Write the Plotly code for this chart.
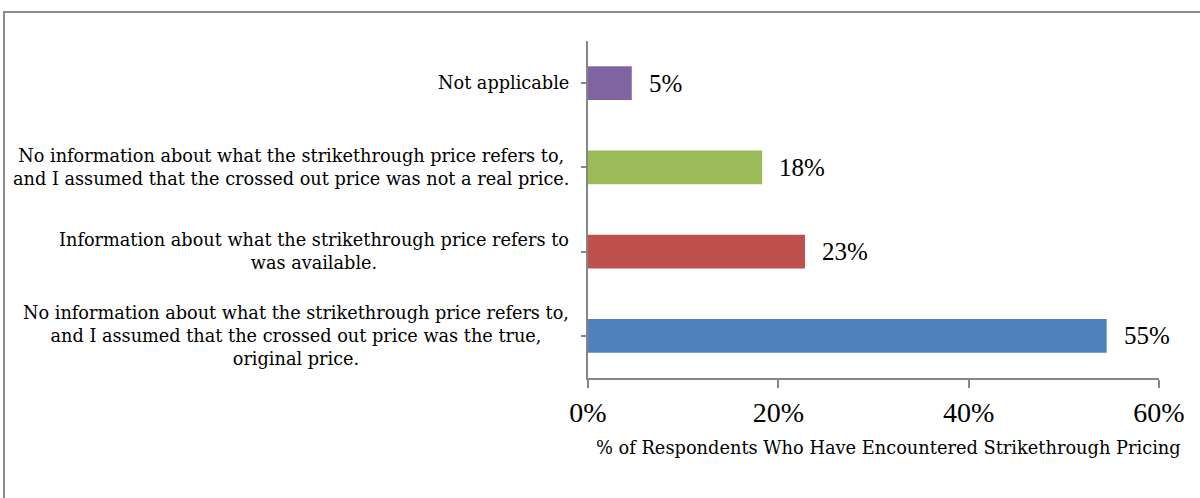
import plotly.graph_objects as go

categories = [
    "No information about what the strikethrough price refers to,<br>and I assumed that the crossed out price was the true,<br>original price.",
    "Information about what the strikethrough price refers to<br>was available.",
    "No information about what the strikethrough price refers to,<br>and I assumed that the crossed out price was not a real price.",
    "Not applicable",
]
values = [0.545, 0.228, 0.183, 0.046]
value_labels = ["55%", "23%", "18%", "5%"]
colors = ["#4F81BD", "#C0504D", "#9BBB59", "#8064A2"]
x_tick_values = [0, 0.2, 0.4, 0.6]
x_tick_labels = ["0%", "20%", "40%", "60%"]
x_title = "% of Respondents Who Have Encountered Strikethrough Pricing"

NUM_FONT = "Liberation Serif"
TXT_FONT = "DejaVu Serif"
AXIS_COLOR = "#868686"

W, H = 1200, 498
L, R, T, B = 588, 41, 41, 120
pw, ph = W - L - R, H - T - B

fig = go.Figure()
fig.add_trace(go.Bar(
    y=list(range(len(categories))),
    x=values,
    orientation="h",
    marker=dict(color=colors, line=dict(width=0)),
    hoverinfo="skip",
))

annotations = []
for i, (v, lab) in enumerate(zip(values, value_labels)):
    annotations.append(dict(
        x=v, y=i, xref="x", yref="y", text=lab, showarrow=False,
        xanchor="left", yanchor="middle", xshift=15,
        font=dict(family=NUM_FONT, size=25, color="#000000"),
    ))
for i, cat in enumerate(categories):
    annotations.append(dict(
        x=0, y=i, xref="paper", yref="y", text=cat, showarrow=False,
        xanchor="right", yanchor="middle", align="center", xshift=-17,
        font=dict(family=TXT_FONT, size=17.7, color="#000000"),
    ))
annotations.append(dict(
    x=(888 - L) / pw, y=(H - B - 447) / ph, xref="paper", yref="paper",
    text=x_title, showarrow=False, xanchor="center", yanchor="middle",
    font=dict(family=TXT_FONT, size=17.8, color="#000000"),
))

fig.update_layout(
    width=W, height=H,
    margin=dict(l=L, r=R, t=T, b=B, pad=0),
    paper_bgcolor="white", plot_bgcolor="white",
    showlegend=False,
    bargap=0.6,
    annotations=annotations,
    shapes=[dict(
        type="rect", xref="paper", yref="paper",
        x0=(4 - L) / pw, x1=1.3, y0=-0.6, y1=(H - B - 12) / ph,
        line=dict(color="#8C8C8C", width=2), fillcolor="rgba(0,0,0,0)",
        layer="below",
    )],
    xaxis=dict(
        range=[0, 0.6], tickvals=x_tick_values, ticktext=x_tick_labels,
        showgrid=False, zeroline=False, showline=True,
        linecolor=AXIS_COLOR, linewidth=2,
        ticks="outside", ticklen=8, tickwidth=2, tickcolor=AXIS_COLOR,
        tickfont=dict(family=NUM_FONT, size=28, color="#000000"),
        fixedrange=True,
    ),
    yaxis=dict(
        range=[-0.5, 3.5], tickmode="array", tickvals=list(range(len(categories))),
        showticklabels=False, showgrid=False, zeroline=False, showline=True,
        linecolor=AXIS_COLOR, linewidth=2,
        ticks="outside", ticklen=5, tickwidth=2, tickcolor=AXIS_COLOR,
        tickson="boundaries", type="linear", fixedrange=True,
    ),
)

fig.write_html(
    "out.html",
    config={"displayModeBar": False},
    post_script="document.body.style.margin='0';document.body.style.overflow='hidden';",
)
